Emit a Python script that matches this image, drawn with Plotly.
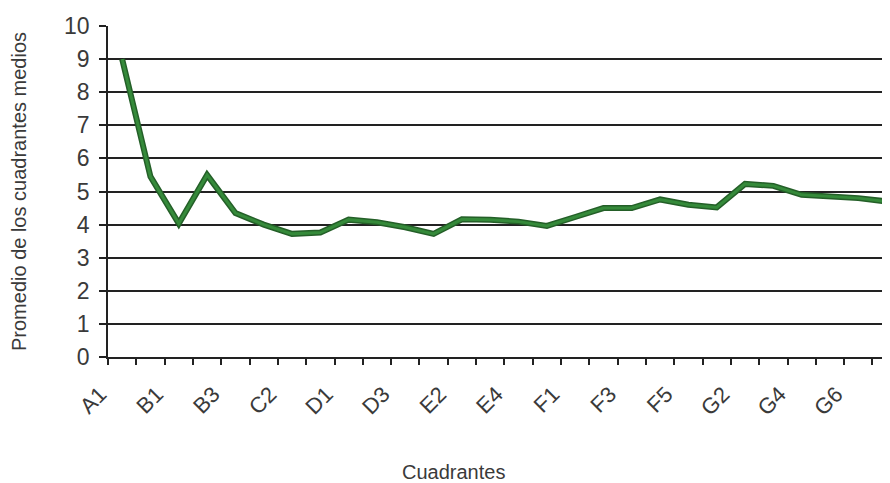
import plotly.graph_objects as go

categories = ["A1", "A2", "B1", "B2", "B3", "C1", "C2", "C3", "D1", "D2",
              "D3", "E1", "E2", "E3", "E4", "E5", "F1", "F2", "F3", "F4",
              "F5", "G1", "G2", "G3", "G4", "G5", "G6", "G7"]
values = [9.0, 5.45, 4.03, 5.5, 4.35, 4.0, 3.72, 3.76, 4.15, 4.07,
          3.92, 3.72, 4.16, 4.15, 4.09, 3.96, 4.23, 4.5, 4.5, 4.76,
          4.6, 4.52, 5.23, 5.17, 4.9, 4.85, 4.8, 4.7]
tick_labels = [c if i % 2 == 0 else "" for i, c in enumerate(categories)]
y_ticks = list(range(0, 11))

font_family = "Liberation Sans, Arial, sans-serif"
text_color = "#3a3a3a"

# the page body adds an 8px offset, so the canvas is 882x475
fig = go.Figure()
fig.add_trace(go.Scatter(
    x=categories, y=values, mode="lines",
    line=dict(color="#245f28", width=6),
    showlegend=False, hoverinfo="skip",
))
fig.add_trace(go.Scatter(
    x=categories, y=values, mode="lines",
    line=dict(color="#358a3a", width=3),
    showlegend=False, hoverinfo="skip",
))

fig.update_layout(
    width=882, height=475,
    margin=dict(l=100, r=0, t=18, b=126),
    paper_bgcolor="white", plot_bgcolor="white",
    font=dict(family=font_family, color=text_color),
    xaxis=dict(
        type="category", automargin=False,
        categoryorder="array", categoryarray=categories,
        tickmode="array", tickvals=categories, ticktext=tick_labels,
        tickson="boundaries",
        ticks="outside", ticklen=6, tickcolor="#222", tickwidth=1.5,
        tickangle=-45, tickfont=dict(size=22, color=text_color),
        ticklabelstandoff=14, ticklabelshift=-22,
        range=[-0.5, 27.12],
        showgrid=False, zeroline=False,
        showline=True, linecolor="#222", linewidth=1.5,
    ),
    yaxis=dict(
        range=[0, 10], tickmode="array", tickvals=y_ticks, automargin=False,
        ticks="outside", ticklen=7, tickcolor="#222", tickwidth=1.5,
        tickfont=dict(size=23, color=text_color), ticklabelstandoff=5,
        showgrid=True, gridcolor="#222", gridwidth=1.5,
        zeroline=False,
        showline=True, linecolor="#222", linewidth=1.5,
        title=dict(text="Promedio de los cuadrantes medios",
                   font=dict(size=20, color=text_color), standoff=40),
    ),
    annotations=[dict(
        text="Cuadrantes", xref="paper", yref="paper",
        x=(453 - 108) / 782, y=(357 - 472) / 331,
        xanchor="center", yanchor="middle", showarrow=False,
        font=dict(size=20, color=text_color),
    )],
)

fig.write_html("out.html")
